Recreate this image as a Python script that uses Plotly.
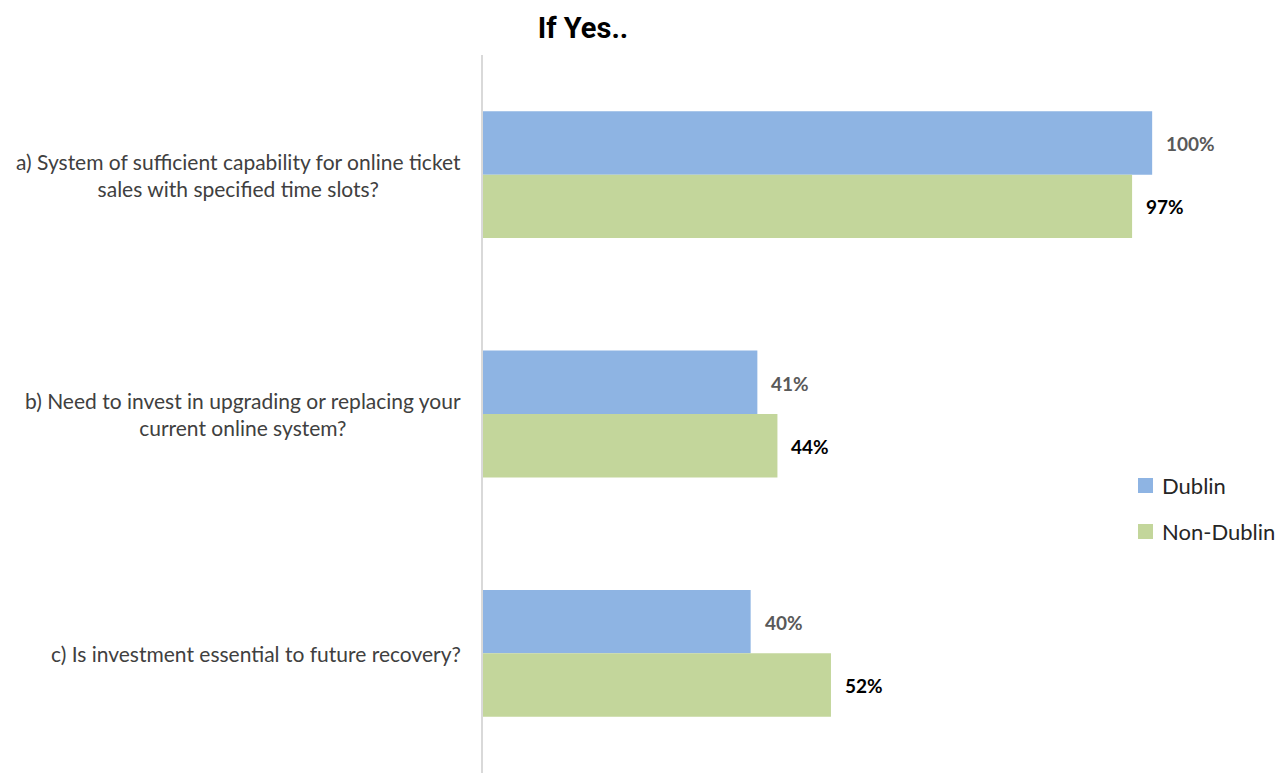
import plotly.graph_objects as go

# Survey questions (top to bottom) and share answering yes, in percent
categories = [
    "a) System of sufficient capability for online ticket<br>sales with specified time slots?",
    "b) Need to invest in upgrading or replacing your<br>current online system?",
    "c) Is investment essential to future recovery?",
]
dublin = [100, 41, 40]
non_dublin = [97, 44, 52]
series_names = ["Dublin", "Non-Dublin"]
title_text = "If Yes.."

BLUE = "#8EB4E3"
GREEN = "#C3D69B"
LABEL_FONT = "Lato, 'Open Sans', sans-serif"
W, H = 1288, 773
ML, MT = 483, 55          # plot area left / top, in pixels
PW, PH = W - ML, H - MT   # plot area size


def px_to_paper(px, py):
    """Convert page pixels to paper coordinates of the plot area."""
    return (px - ML) / PW, 1 - (py - MT) / PH


fig = go.Figure()
fig.add_trace(go.Bar(
    y=categories, x=dublin, name=series_names[0], orientation="h",
    marker=dict(color=BLUE, line=dict(width=0)), hoverinfo="x+name",
))
fig.add_trace(go.Bar(
    y=categories, x=non_dublin, name=series_names[1], orientation="h",
    marker=dict(color=GREEN, line=dict(width=0)), hoverinfo="x+name",
))

annotations = []
shapes = []

# Category labels, centred line by line and right-aligned against the axis
for cat in categories:
    annotations.append(dict(
        x=0, xref="paper", y=cat, yref="y", xanchor="right", yanchor="middle",
        xshift=-20, text=cat, showarrow=False, align="center",
        font=dict(family=LABEL_FONT, size=21, color="#404040"),
    ))

# Value labels just past the end of each bar
for i, cat in enumerate(categories):
    annotations.append(dict(
        x=dublin[i], xref="x", y=cat, yref="y", xanchor="left", yanchor="middle",
        xshift=12, yshift=31, text=f"<b>{dublin[i]}%</b>", showarrow=False,
        font=dict(family=LABEL_FONT, size=19, color="#595959"),
    ))
    annotations.append(dict(
        x=non_dublin[i], xref="x", y=cat, yref="y", xanchor="left", yanchor="middle",
        xshift=12, yshift=-32, text=f"<b>{non_dublin[i]}%</b>", showarrow=False,
        font=dict(family=LABEL_FONT, size=19, color="#000000"),
    ))

# Legend: colour swatch plus series name, stacked on the right
legend_rows = [(series_names[0], BLUE, 485.5), (series_names[1], GREEN, 531.5)]
for name, color, yc in legend_rows:
    x0, y0 = px_to_paper(1138, yc - 7.5)
    x1, y1 = px_to_paper(1153, yc + 7.5)
    shapes.append(dict(
        type="rect", xref="paper", yref="paper", x0=x0, x1=x1, y0=y0, y1=y1,
        fillcolor=color, line=dict(width=0),
    ))
    tx, ty = px_to_paper(1160, yc)
    annotations.append(dict(
        x=tx, xref="paper", y=ty, yref="paper",
        xanchor="left", yanchor="middle", text=name, showarrow=False,
        font=dict(family=LABEL_FONT, size=22, color="#262626"),
    ))

fig.update_layout(
    width=W, height=H,
    margin=dict(l=ML, r=0, t=MT, b=0, autoexpand=False),
    paper_bgcolor="white", plot_bgcolor="white",
    barmode="group", bargap=0.47, bargroupgap=0,
    title=dict(
        text=f"<b>{title_text}</b>", x=583 / W, xanchor="center",
        y=1 - 28 / H, yanchor="middle",
        font=dict(family="Roboto, Arial, sans-serif", size=29, color="#000000"),
    ),
    xaxis=dict(range=[0, 120.3], visible=False, showgrid=False, zeroline=False, fixedrange=True),
    yaxis=dict(
        autorange="reversed", showticklabels=False, ticks="", showgrid=False,
        zeroline=False, showline=True, linecolor="#D9D9D9", linewidth=1.5,
        fixedrange=True,
    ),
    annotations=annotations,
    shapes=shapes,
    showlegend=False,
)

fig.write_html("out.html")
